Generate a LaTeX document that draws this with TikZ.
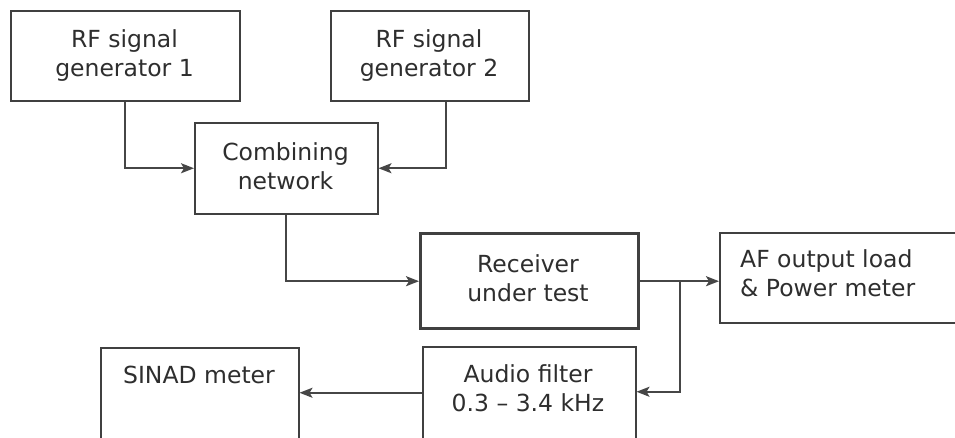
\documentclass[tikz,border=0pt]{standalone}
\usepackage{fontspec}
\setmainfont{DejaVu Sans}
\usetikzlibrary{arrows.meta}
\definecolor{boxc}{HTML}{404040}
\definecolor{txtc}{HTML}{2E2E2E}
\definecolor{linec}{HTML}{464646}
\begin{document}
\begin{tikzpicture}[x=1pt,y=-1pt,
  box/.style={draw=boxc, line width=1.5pt, fill=white, inner sep=0pt, anchor=north west},
  thickbox/.style={box, line width=3.4pt},
  lbl/.style={text=txtc, font=\fontsize{23.5}{29}\selectfont, align=center, inner sep=0pt},
  conn/.style={draw=linec, line width=2pt, -{Stealth[length=13pt,width=10pt,inset=3pt]}}]
\useasboundingbox (0,0) rectangle (955,437);
\clip (0,0) rectangle (955,437);
\fill[white] (0,0) rectangle (955,437);
% boxes
\node[box, minimum width=229pt, minimum height=90pt] (g1) at (10,10) {};
\node[box, minimum width=198pt, minimum height=90pt] (g2) at (330,10) {};
\node[box, minimum width=183pt, minimum height=91pt] (cn) at (194,122) {};
\node[thickbox, minimum width=218pt, minimum height=95pt] (rx) at (419,232) {};
\node[box, minimum width=262pt, minimum height=90pt] (af) at (719,232) {};
\node[box, minimum width=213pt, minimum height=100pt] (fl) at (422,346) {};
\node[box, minimum width=198pt, minimum height=100pt] (sn) at (100,347) {};
% labels
\node[lbl] (g1t) at (124.5,55.5) {RF signal\\generator 1};
\node[lbl] (g2t) at (429,55.5) {RF signal\\generator 2};
\node[lbl] (cnt) at (285.5,166) {Combining\\network};
\node[lbl] (rxt) at (528,278.5) {Receiver\\under test};
\node[lbl, align=left, anchor=west] (aft) at (740,273) {AF output load\\\& Power meter};
\node[lbl] (flt) at (528,388) {Audio filter\\0.3 – 3.4 kHz};
\node[lbl, anchor=base] (snt) at (199,383) {SINAD meter};
% connectors
\draw[conn] (g1.south) |- (cn.west);
\draw[conn] ([xshift=16pt]g2.south) |- (cn.east);
\draw[conn] (cn.south) |- (rx.west);
\draw[conn] (rx.east) -- (rx.east -| af.west);
\coordinate (br) at ([xshift=40pt]rx.east);
\draw[conn] (br) |- ([yshift=5pt]fl.east);
\draw[conn] ([yshift=4pt]fl.west) -- ([yshift=4pt]fl.west -| sn.east);
\end{tikzpicture}
\end{document}
